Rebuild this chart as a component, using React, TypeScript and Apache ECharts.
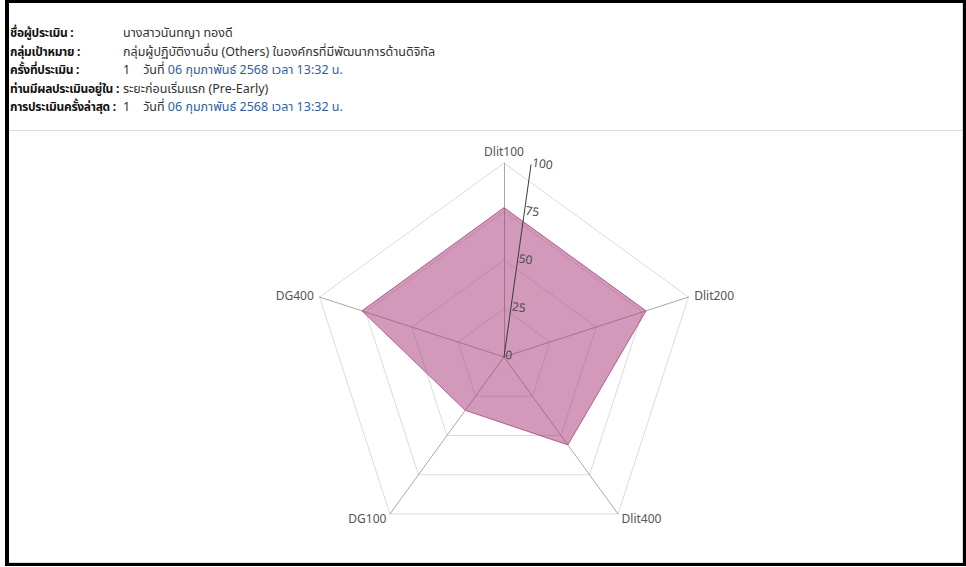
import React, { useEffect, useRef } from "react";
import * as echarts from "echarts";

// indicators in clockwise order starting at the top
const indicators = ["Dlit100", "Dlit200", "Dlit400", "DG100", "DG400"];
const scores = [77, 77, 56, 34, 77];
const maxScore = 100;
const tickStep = 25;

const headerRows: { label: string; parts: { text: string; blue?: boolean }[] }[] = [
  { label: "ชื่อผู้ประเมิน :", parts: [{ text: "นางสาวนันทญา ทองดี" }] },
  { label: "กลุ่มเป้าหมาย :", parts: [{ text: "กลุ่มผู้ปฏิบัติงานอื่น (Others) ในองค์กรที่มีพัฒนาการด้านดิจิทัล" }] },
  {
    label: "ครั้งที่ประเมิน :",
    parts: [{ text: "1\u00a0\u00a0\u00a0 วันที่ " }, { text: "06 กุมภาพันธ์ 2568 เวลา 13:32 น.", blue: true }],
  },
  { label: "ท่านมีผลประเมินอยู่ใน :", parts: [{ text: "ระยะก่อนเริ่มแรก (Pre-Early)" }] },
  {
    label: "การประเมินครั้งล่าสุด :",
    parts: [{ text: "1\u00a0\u00a0\u00a0 วันที่ " }, { text: "06 กุมภาพันธ์ 2568 เวลา 13:32 น.", blue: true }],
  },
];

const FONT = '"Noto Sans", "Noto Sans Thai", "Noto Sans CJK SC", sans-serif';

export default function App() {
  const ref = useRef<HTMLDivElement>(null);

  useEffect(() => {
    if (!ref.current) return;
    const chart = echarts.init(ref.current, undefined, { renderer: "svg" });
    const center = [495, 225];
    const radius = 194;
    // ECharts radar runs counter-clockwise; reorder to draw clockwise
    const order = [0, ...indicators.map((_, i) => i).slice(1).reverse()];
    chart.setOption({
      animation: false,
      polar: { center, radius },
      angleAxis: {
        type: "value",
        min: 0,
        max: 360,
        startAngle: 82,
        show: false,
      },
      radiusAxis: {
        type: "value",
        min: 0,
        max: maxScore,
        interval: tickStep,
        axisLine: { show: true, lineStyle: { color: "#3a3a3a", width: 1 } },
        axisTick: { show: false },
        splitLine: { show: false },
        axisLabel: {
          color: "#4a4a4a",
          fontSize: 12,
          fontFamily: FONT,
          margin: -1,
          align: "left",
          verticalAlign: "bottom",
          lineHeight: 6,
          rotate: -8,
        },
        z: 10,
      },
      radar: {
        center,
        radius,
        startAngle: 90,
        shape: "polygon",
        splitNumber: maxScore / tickStep,
        indicator: order.map((i) => ({ name: indicators[i], max: maxScore, min: 0 })),
        axisName: { color: "#555", fontSize: 12, fontFamily: FONT },
        nameGap: 6,
        splitLine: { lineStyle: { color: "#dcdcdc", width: 1 } },
        splitArea: { show: false },
        axisLine: { lineStyle: { color: "#a8a8a8", width: 1 } },
      },
      series: [
        {
          type: "radar",
          symbol: "none",
          data: [
            {
              value: order.map((i) => scores[i]),
              lineStyle: { color: "#b8709c", width: 1 },
              areaStyle: { color: "rgb(166, 52, 120)", opacity: 0.5 },
            },
          ],
        },
      ],
    });
    return () => chart.dispose();
  }, []);

  return (
    <div
      style={{
        position: "fixed",
        left: 0,
        top: 0,
        width: 966,
        height: 567,
        background: "#fff",
        fontFamily: FONT,
        overflow: "hidden",
      }}
    >
      <div
        style={{
          position: "absolute",
          left: 5,
          top: 0,
          width: 961,
          height: 566,
          boxSizing: "border-box",
          borderTop: "3px solid #000",
          borderLeft: "4px solid #000",
          borderRight: "3px solid #000",
          borderBottom: "3px solid #000",
        }}
      >
        <div
          style={{
            position: "absolute",
            left: 0,
            top: 0,
            right: 0,
            bottom: 0,
            borderRight: "1px solid #ddd",
            borderBottom: "1px solid #ddd",
          }}
        />
      </div>
      <div
        style={{
          position: "absolute",
          left: 10,
          top: 24,
          fontSize: 12.5,
          lineHeight: "18.5px",
          color: "#333",
        }}
      >
        {headerRows.map((row, i) => (
          <div key={i} style={{ display: "flex", alignItems: "baseline", whiteSpace: "nowrap" }}>
            <span
              style={{
                fontWeight: "bold",
                color: "#111",
                fontSize: 12,
                letterSpacing: -0.3,
                minWidth: 112,
                paddingRight: 1,
                display: "inline-block",
              }}
            >
              {row.label}
            </span>
            <span>
              {row.parts.map((p, j) => (
                <span key={j} style={{ color: p.blue ? "#2f5f9e" : "#333" }}>
                  {p.text}
                </span>
              ))}
            </span>
          </div>
        ))}
      </div>
      <div
        style={{
          position: "absolute",
          left: 9,
          top: 130,
          width: 953,
          height: 1,
          background: "#ddd",
        }}
      />
      <div ref={ref} style={{ position: "absolute", left: 9, top: 132, width: 953, height: 430 }} />
    </div>
  );
}
